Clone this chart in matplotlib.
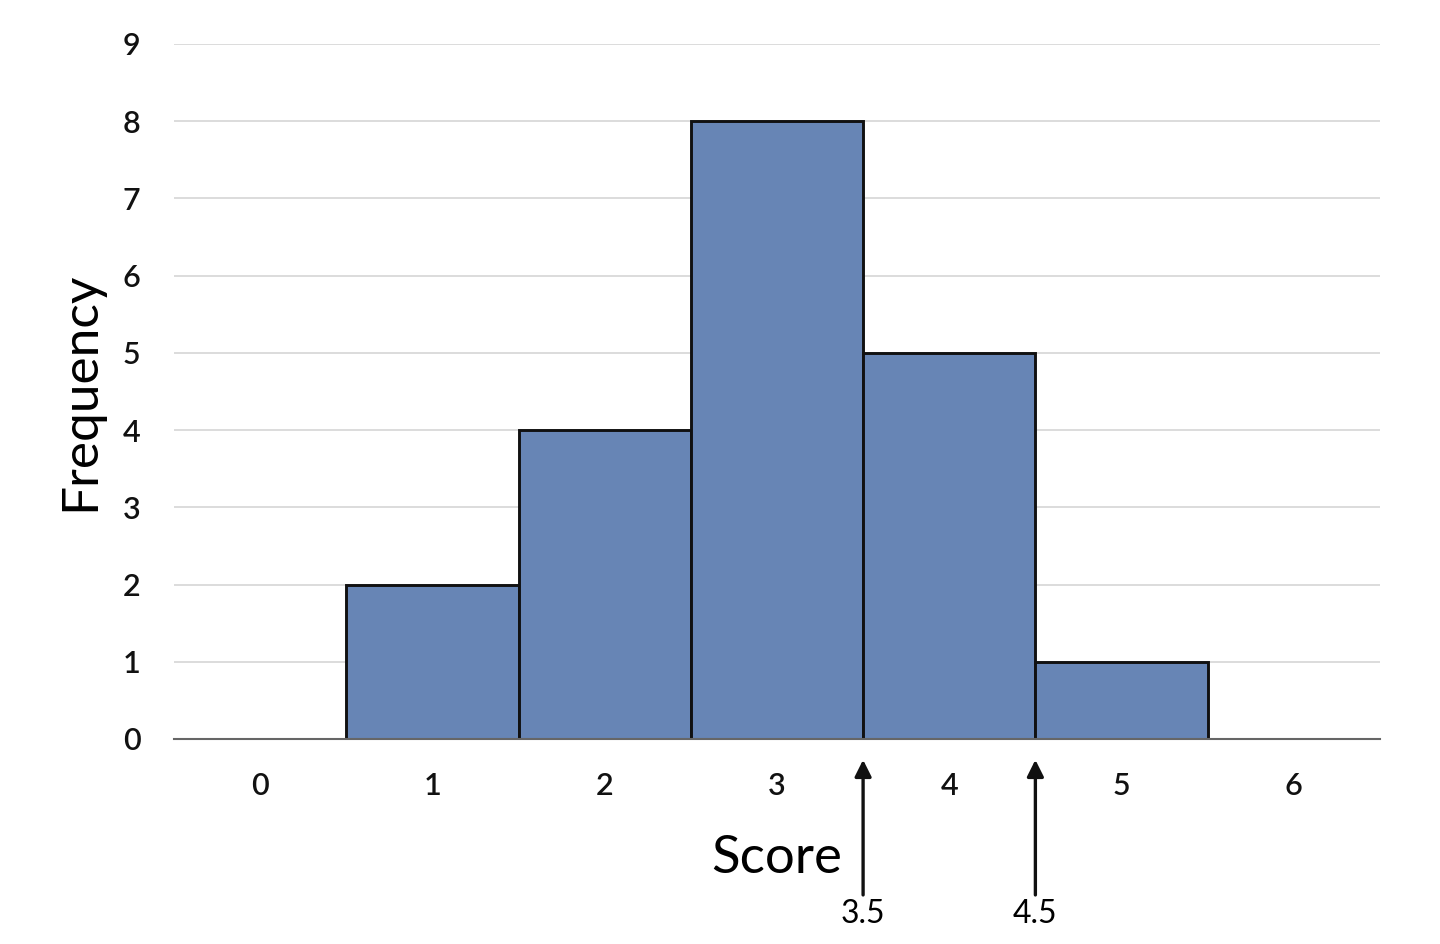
import matplotlib
matplotlib.use("Agg")
import matplotlib.pyplot as plt

scores = [0, 1, 2, 3, 4, 5, 6]
frequency = [0, 2, 4, 8, 5, 1, 0]
y_ticks = [0, 1, 2, 3, 4, 5, 6, 7, 8, 9]
arrow_positions = [3.5, 4.5]
arrow_labels = ["3.5", "4.5"]

plt.rcParams['font.family'] = ['Lato', 'DejaVu Sans']

fig = plt.figure(figsize=(14.4, 9.44), dpi=100)
ax = fig.add_axes([0.1208, 0.2172, 0.8375, 0.7362])

ax.set_axisbelow(True)
ax.yaxis.grid(True, color='#d9d9d9', linewidth=1.3)
ax.bar(scores, frequency, width=1.0, color='#6785b5', edgecolor='#111111', linewidth=2.1, zorder=3)

ax.set_xlim(-0.5, 6.5)
ax.set_ylim(0, 9)
ax.set_yticks(y_ticks)
ax.set_xticks(scores)
ax.tick_params(axis='both', length=0, labelsize=22, colors='#111111')
for lab in ax.get_xticklabels() + ax.get_yticklabels():
    lab.set_fontweight('semibold')
ax.tick_params(axis='y', pad=24)
ax.tick_params(axis='x', pad=24)
for s in ['top', 'right', 'left']:
    ax.spines[s].set_visible(False)
ax.spines['bottom'].set_color('#666666')
ax.spines['bottom'].set_linewidth(1.5)
ax.spines['bottom'].set_zorder(4)

ax.set_ylabel('Frequency', fontsize=37, labelpad=14)
ax.text(3.0, -1.55, 'Score', fontsize=38, ha='center', va='center', transform=ax.transData)

for xp, lab in zip(arrow_positions, arrow_labels):
    ax.annotate('', xy=(xp, -0.27), xytext=(xp, -2.02), annotation_clip=False,
                arrowprops=dict(arrowstyle='-|>', color='#111111', lw=2.4, mutation_scale=25,
                                shrinkA=0, shrinkB=0))
    ax.text(xp, -2.27, lab, fontsize=23, ha='center', va='center', clip_on=False)

fig.savefig('out.png', dpi=100)
